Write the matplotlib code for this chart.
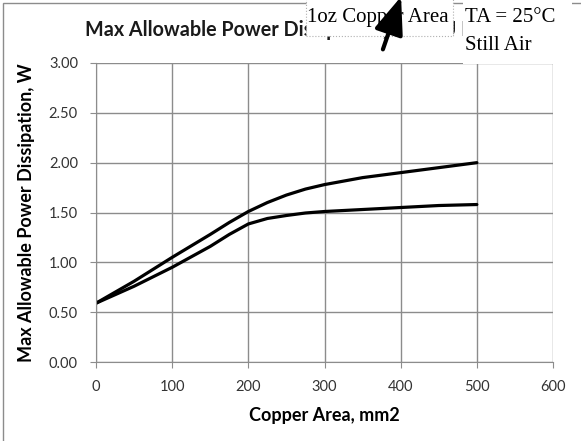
import numpy as np
import matplotlib.pyplot as plt
from matplotlib import rcParams
from matplotlib.patches import Rectangle

rcParams['font.family'] = ['Lato', 'DejaVu Sans']

# copper area, mm2
area = [0, 50, 100, 150, 175, 200, 225, 250, 275, 300, 350, 400, 450, 500]
# max allowable power dissipation, W
p_upper = [0.59, 0.81, 1.05, 1.28, 1.40, 1.51, 1.60, 1.675, 1.735, 1.78, 1.85, 1.90, 1.95, 2.00]
p_lower = [0.59, 0.76, 0.95, 1.16, 1.28, 1.385, 1.44, 1.47, 1.495, 1.51, 1.53, 1.55, 1.57, 1.58]

xticks = [0, 100, 200, 300, 400, 500, 600]
yticks = [0.0, 0.5, 1.0, 1.5, 2.0, 2.5, 3.0]

W, H = 581, 441
fig = plt.figure(figsize=(W / 100, H / 100), dpi=100)

def px(x, y):
    return x / W, 1 - y / H

# chart area border
fig.patches.append(Rectangle(px(3, 445), 600 / W, 442 / H, transform=fig.transFigure,
                             fill=False, edgecolor='#8c8c8c', linewidth=1.0))

ax = fig.add_axes([96 / W, 1 - 362 / H, (553 - 96) / W, (362 - 63) / H])
ax.plot(area, p_upper, color='black', linewidth=2.3, solid_capstyle='round',
        solid_joinstyle='round')
ax.plot(area, p_lower, color='black', linewidth=2.3, solid_capstyle='round',
        solid_joinstyle='round')

ax.set_xlim(0, 600)
ax.set_ylim(0, 3)
ax.set_xticks(xticks)
ax.set_yticks(yticks)
ax.set_xticklabels([str(v) for v in xticks])
ax.set_yticklabels(['%.2f' % v for v in yticks])
ax.grid(True, color='#8c8c8c', linewidth=1.0)
ax.set_axisbelow(True)
for s in ['top', 'right']:
    ax.spines[s].set_visible(False)
for s in ['left', 'bottom']:
    ax.spines[s].set_color('#8c8c8c')
ax.tick_params(direction='out', length=4, color='#8c8c8c', labelsize=10.5,
               labelcolor='#333333', pad=9)

ax.set_xlabel('Copper Area, mm2', fontsize=13, fontweight='bold', labelpad=9)
ax.set_ylabel('Max Allowable Power Dissipation, W', fontsize=13,
              fontweight='bold', labelpad=10)

fig.text(*px(85, 36), 'Max Allowable Power Dissipation, 1oz CU PD',
         fontsize=14.2, fontweight='bold', color='#1a1a1a',
         ha='left', va='baseline')

# pasted annotation boxes
fig.patches.append(Rectangle(px(306, 36), 147 / W, 44 / H, transform=fig.transFigure,
                             facecolor='white', edgecolor='#b0b0b0',
                             linestyle=':', linewidth=0.8, zorder=5))
fig.patches.append(Rectangle(px(463, 64), 109 / W, 70 / H, transform=fig.transFigure,
                             facecolor='white', edgecolor='none', zorder=5))

serif = ['Liberation Serif', 'DejaVu Serif']
fig.text(*px(307, 22), '1oz Copper Area', family=serif, fontsize=15,
         ha='left', va='baseline', zorder=6)
fig.text(*px(465, 22), 'TA = 25°C', family=serif, fontsize=15,
         ha='left', va='baseline', zorder=6)
fig.text(*px(465, 50), 'Still Air', family=serif, fontsize=15,
         ha='left', va='baseline', zorder=6)

arr = fig.add_artist(plt.Annotation('', xy=px(402, -6), xytext=px(382, 52),
                                    xycoords='figure fraction',
                                    textcoords='figure fraction',
                                    arrowprops=dict(arrowstyle='-|>,head_length=2.3,head_width=0.9',
                                                    color='black', linewidth=3)))
arr.set_zorder(7)

fig.savefig('out.png', dpi=100)
